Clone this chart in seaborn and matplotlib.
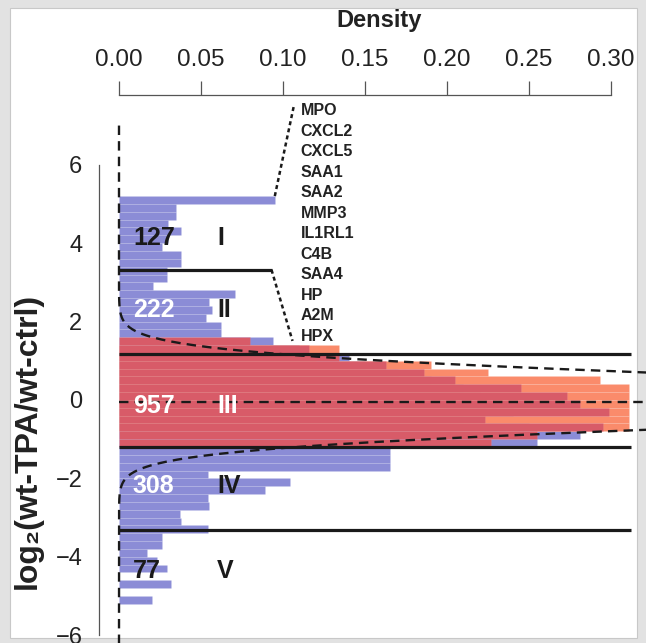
import numpy as np
import pandas as pd
import matplotlib
matplotlib.use("Agg")
import matplotlib.pyplot as plt
import seaborn as sns
from matplotlib.patches import Rectangle

# ---------------- data ----------------
bin_width = 0.2
# blue histogram (all genes): bins from 5.0-5.2 down to -5.2--5.0
blue_top_edge = 5.2
blue_density = [0.095, 0.035, 0.035, 0.030, 0.038, 0.030, 0.026, 0.038, 0.038, 0.029,
                0.029, 0.021, 0.071, 0.055, 0.057, 0.053, 0.062, 0.062, 0.094, 0.110,
                0.140, 0.150, 0.170, 0.190, 0.210, 0.220, 0.230, 0.240, 0.210, 0.250,
                0.281, 0.255, 0.165, 0.165, 0.165, 0.054, 0.104, 0.089, 0.054, 0.055,
                0.037, 0.038, 0.054, 0.026, 0.026, 0.017, 0.023, 0.029, 0.000, 0.032,
                0.000, 0.020]
# orange histogram: bins from 1.2-1.4 down to -0.8--0.6
orange_top_edge = 1.4
orange_density = [0.134, 0.120, 0.190, 0.225, 0.293, 0.311, 0.311, 0.311, 0.311, 0.311, 0.311]
# red histogram (group III): bins from 1.4-1.6 down to -1.2--1.0
red_top_edge = 1.6
red_density = [0.080, 0.116, 0.134, 0.163, 0.186, 0.205, 0.245, 0.273, 0.281, 0.299,
               0.223, 0.295, 0.255, 0.227]

# fitted normal curve
norm_mu = -0.03
norm_sigma = 0.62
mean_line = -0.05

# group cut levels
cut_levels = [3.32, 1.17, -1.2, -3.32]
cut_extent = [0.093, 0.312, 0.312, 0.312]

group_names = ["I", "II", "III", "IV", "V"]
group_counts = ["127", "222", "957", "308", "77"]
group_baselines = [3.95, 2.12, -0.33, -2.37, -4.54]
count_colors = ["#1a1a1a", "white", "white", "white", "#1a1a1a"]
name_colors = ["#1a1a1a", "#1a1a1a", "white", "#1a1a1a", "#1a1a1a"]

genes = ["MPO", "CXCL2", "CXCL5", "SAA1", "SAA2", "MMP3", "IL1RL1", "C4B",
         "SAA4", "HP", "A2M", "HPX"]

x_ticks = [0.00, 0.05, 0.10, 0.15, 0.20, 0.25, 0.30]
y_ticks = [-6, -4, -2, 0, 2, 4, 6]

BLUE = "#8b8cd6"
ORANGE = "#fa8b6b"
RED = "#d85b68"


def hist_frame(top_edge, dens):
    n = len(dens)
    upper = top_edge - bin_width * np.arange(n)
    centers = upper - bin_width / 2
    edges = np.round(np.sort(np.append(upper, upper[-1] - bin_width)), 3)
    return pd.DataFrame({"y": centers, "w": dens}), [float(e) for e in edges]


# ---------------- figure ----------------
sns.set_theme(style="white")
plt.rcParams["font.family"] = ["Liberation Sans", "DejaVu Sans"]

W, H = 646, 643
fig = plt.figure(figsize=(W / 100, H / 100), dpi=100)
fig.patch.set_facecolor("#e2e2e2")
fig.add_artist(Rectangle((10 / W, 5 / H), 627 / W, 630 / H, transform=fig.transFigure,
                         facecolor="white", edgecolor="#c8c8c8", lw=0.8, zorder=0))

xlim = (-0.0045, 0.3213)
ylim = (-6.2, 7.78)
px_per_x = 1640.0
px_per_y = 39.2
left_px = 119 + xlim[0] * px_per_x
ax_w_px = (xlim[1] - xlim[0]) * px_per_x
ax_h_px = (ylim[1] - ylim[0]) * px_per_y
ax = fig.add_axes([left_px / W, 0.0, ax_w_px / W, ax_h_px / H])
ax.patch.set_alpha(0)

for top, dens, col in [(blue_top_edge, blue_density, BLUE),
                       (orange_top_edge, orange_density, ORANGE),
                       (red_top_edge, red_density, RED)]:
    df, edges = hist_frame(top, dens)
    sns.histplot(data=df, y="y", weights="w", bins=edges, stat="count",
                 color=col, alpha=1, edgecolor=(1, 1, 1, 0.09), linewidth=0.5,
                 ax=ax, zorder=2)

# normal curve (dashed)
yy = np.linspace(-6.3, 7.0, 800)
pdf = np.exp(-0.5 * ((yy - norm_mu) / norm_sigma) ** 2) / (norm_sigma * np.sqrt(2 * np.pi))
dash = (0, (4, 2.6))
ax.plot(pdf, yy, color="#1a1a1a", lw=1.7, ls=dash, zorder=5, clip_on=True)
ax.plot([0, xlim[1]], [mean_line, mean_line], color="#1a1a1a", lw=1.7, ls=dash, zorder=5)

# cut lines
ax.hlines(cut_levels, 0, cut_extent, colors="#1a1a1a", lw=2.3, zorder=6)

# gene list and connectors
gene_x = 0.1108
gene_top = 7.27
gene_step = 0.524
for i, g in enumerate(genes):
    ax.text(gene_x, gene_top - i * gene_step, g, fontsize=11.5, fontweight="bold",
            color="#222222", ha="left", va="baseline", zorder=7)
dot = (0, (1.6, 1.3))
ax.plot([blue_density[0], gene_x - 0.004], [blue_top_edge, gene_top + 0.27],
        color="#1a1a1a", lw=1.8, ls=dot, zorder=6)
ax.plot([cut_extent[0], gene_x - 0.005], [cut_levels[0], gene_top - 11 * gene_step],
        color="#1a1a1a", lw=1.8, ls=dot, zorder=6)

# group labels
for name, cnt, yb, cc, nc in zip(group_names, group_counts, group_baselines,
                                 count_colors, name_colors):
    ax.text(0.0085, yb, cnt, fontsize=18, fontweight="bold", color=cc,
            ha="left", va="baseline", zorder=8)
    ax.text(0.0598, yb, name, fontsize=18, fontweight="bold", color=nc,
            ha="left", va="baseline", zorder=8)

# axes styling
ax.set_xlim(*xlim)
ax.set_ylim(*ylim)
ax.xaxis.tick_top()
ax.xaxis.set_label_position("top")
ax.set_xticks(x_ticks)
ax.set_xticklabels([f"{v:.2f}" for v in x_ticks])
ax.set_yticks(y_ticks)
ax.set_yticklabels([f"{v}".replace("-", "\u2212") for v in y_ticks])
for s in ["right", "bottom"]:
    ax.spines[s].set_visible(False)
ax.spines["top"].set_bounds(0, 0.30)
ax.spines["left"].set_bounds(-6, 6)
ax.spines["left"].set_position(("outward", 8.8))
for s in ["top", "left"]:
    ax.spines[s].set_color("#555555")
    ax.spines[s].set_linewidth(0.9)
ax.tick_params(axis="x", which="major", direction="out", length=10, width=0.9,
               color="#555555", labelsize=17.5, pad=7, labelcolor="#222222",
               top=True, bottom=False, labeltop=True, labelbottom=False)
ax.tick_params(axis="y", which="major", direction="out", length=8.6, width=0.9,
               color="#555555", labelsize=17, pad=3.6, labelcolor="#222222")
ax.set_xlabel("Density", fontsize=17, fontweight="bold", color="#222222", labelpad=16)
ax.set_ylabel("log\u2082(wt-TPA/wt-ctrl)", fontsize=23, fontweight="bold",
              color="#222222")
ax.yaxis.set_label_coords((28 - left_px) / ax_w_px, (643 - 441) / ax_h_px)
ax.yaxis.label.set_va("center")
ax.grid(False)

fig.savefig("out.png", dpi=100, facecolor=fig.get_facecolor())
